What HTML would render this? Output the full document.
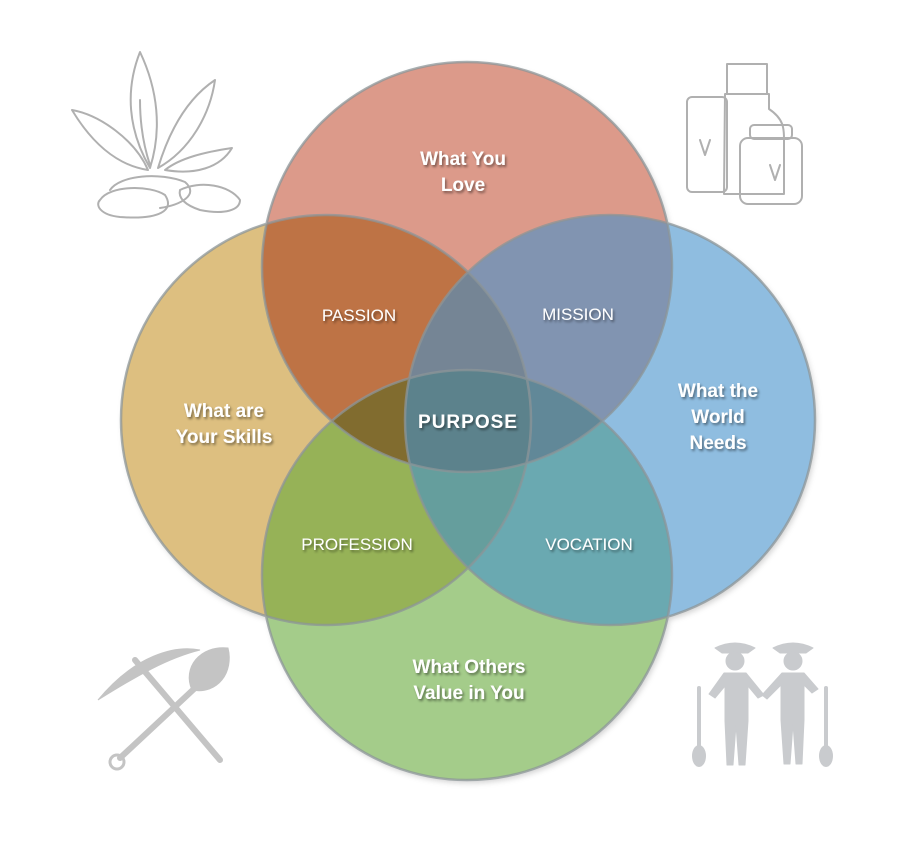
<!DOCTYPE html>
<html><head><meta charset="utf-8"><style>
html,body{margin:0;padding:0;background:#fff;}
svg{display:block}
.t{font-family:"Liberation Sans",sans-serif;fill:#fff;text-anchor:middle}
.b{font-weight:bold;font-size:19px}
.s{font-size:17px}
</style></head><body>
<svg width="901" height="846" viewBox="0 0 901 846">
<defs>
<filter id="sh" x="-20%" y="-20%" width="140%" height="140%"><feDropShadow dx="1.5" dy="2" stdDeviation="1.2" flood-color="#000" flood-opacity="0.45"/></filter>
<filter id="cs" x="-10%" y="-10%" width="120%" height="120%"><feDropShadow dx="2" dy="3" stdDeviation="3" flood-color="#000" flood-opacity="0.18"/></filter>
</defs>
<g filter="url(#cs)">
<circle cx="467" cy="267" r="205" fill="#fff"/>
<circle cx="326" cy="420" r="205" fill="#fff"/>
<circle cx="467" cy="575" r="205" fill="#fff"/>
<circle cx="610" cy="420" r="205" fill="#fff"/>
</g>
<g style="isolation:isolate">
<circle cx="326" cy="420" r="205" fill="#ddbf80"/>
<circle cx="467" cy="575" r="205" fill="#67aa3c" fill-opacity="0.6"/>
<circle cx="467" cy="267" r="205" fill="#dc9a8a" style="mix-blend-mode:multiply"/>
<circle cx="610" cy="420" r="205" fill="#4491cb" fill-opacity="0.6"/>
</g>
<g fill="none" stroke="#8c9598" stroke-width="2.5" opacity="0.75">
<circle cx="467" cy="267" r="205"/>
<circle cx="326" cy="420" r="205"/>
<circle cx="467" cy="575" r="205"/>
<circle cx="610" cy="420" r="205"/>
</g>
<g filter="url(#sh)">
<text class="t b" x="463" y="165">What You</text>
<text class="t b" x="463" y="191">Love</text>
<text class="t b" x="224" y="417">What are</text>
<text class="t b" x="224" y="443">Your Skills</text>
<text class="t b" x="718" y="397">What the</text>
<text class="t b" x="718" y="423">World</text>
<text class="t b" x="718" y="449">Needs</text>
<text class="t b" x="469" y="673">What Others</text>
<text class="t b" x="469" y="699">Value in You</text>
<text class="t b" x="468" y="428" style="letter-spacing:1px">PURPOSE</text>
<text class="t s" x="359" y="321">PASSION</text>
<text class="t s" x="578" y="320">MISSION</text>
<text class="t s" x="357" y="550">PROFESSION</text>
<text class="t s" x="589" y="550">VOCATION</text>
</g>
<!-- icons -->
<g fill="none" stroke="#b0b0b0" stroke-width="2" stroke-linecap="round" stroke-linejoin="round">
<path d="M140 52 C125 90 128 130 150 168 C162 130 158 90 140 52Z"/>
<path d="M140 100 C140 130 145 150 150 165"/>
<path d="M72 110 C100 115 135 140 148 170 C115 165 90 140 72 110Z"/>
<path d="M215 80 C185 100 168 135 158 168 C190 150 210 115 215 80Z"/>
<path d="M232 148 C205 152 180 158 165 170 C195 175 220 168 232 148Z"/>
<path d="M110 190 C120 175 160 172 185 182 C200 195 180 205 160 208"/>
<path d="M100 200 C110 185 150 185 165 195 C175 210 160 220 120 217 C100 215 95 205 100 200Z"/>
<path d="M180 190 C200 180 230 185 240 200 C240 210 225 215 200 210 C185 205 178 198 180 190Z"/>
<!-- products -->
<rect x="687" y="97" width="40" height="95" rx="5"/>
<rect x="727" y="64" width="40" height="30"/>
<path d="M725 94 h44 v15 c15 10 15 20 15 30 v55 h-60 z"/>
<rect x="740" y="138" width="62" height="66" rx="8"/>
<rect x="750" y="125" width="42" height="14" rx="4"/>
<path d="M700 140 l5 15 l5 -15 M770 165 l5 15 l5 -15"/>
</g>
<!-- tools -->
<g fill="#c4c4c4" stroke="#c4c4c4" stroke-linecap="round">
<path d="M98 700 C135 655 175 645 200 650 C168 658 138 675 98 700Z"/>
<line x1="135" y1="660" x2="220" y2="760" stroke-width="6"/>
<line x1="195" y1="688" x2="120" y2="758" stroke-width="6"/>
<path d="M192 690 C182 668 200 645 228 648 C234 672 218 695 192 690Z"/>
<circle cx="117" cy="762" r="7" fill="none" stroke-width="3"/>
</g>
<!-- farmers -->
<g fill="#c9cbce" stroke="#c9cbce" stroke-linecap="round" stroke-linejoin="round">
<path d="M715 648 Q735 638 755 648 L748 653 L722 653Z"/>
<path d="M773 648 Q793 638 813 648 L806 653 L780 653Z"/>
<circle cx="735" cy="661" r="9"/><circle cx="793" cy="661" r="9"/>
<path d="M724 673 h22 l18 22 l-6 3 l-10 -12 v35 l-3 44 h-6 l-3 -40 l-3 40 h-6 l-2 -44 v-35 l-10 12 l-6 -4Z"/>
<path d="M782 673 h22 l14 16 l-6 4 l-8 -8 v35 l-2 44 h-6 l-3 -40 l-3 40 h-6 l-3 -44 v-35 l-14 14 l-5 -4Z"/>
<line x1="699" y1="688" x2="699" y2="748" stroke-width="4"/>
<line x1="826" y1="688" x2="826" y2="748" stroke-width="4"/>
<ellipse cx="699" cy="756" rx="7" ry="11" stroke="none"/>
<ellipse cx="826" cy="756" rx="7" ry="11" stroke="none"/>
</g>
</svg>
</body></html>
